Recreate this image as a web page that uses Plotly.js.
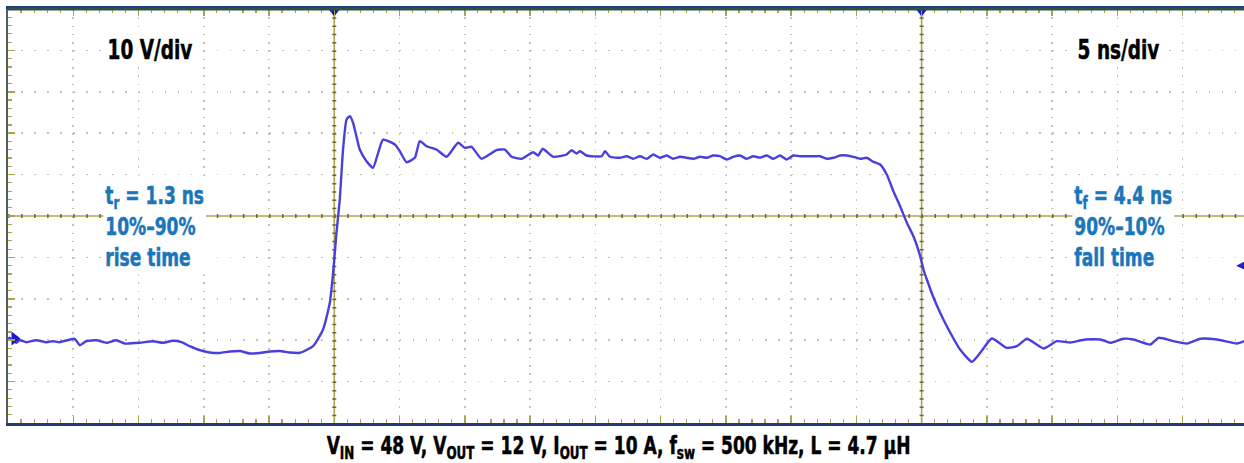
<!DOCTYPE html>
<html>
<head>
<meta charset="utf-8">
<script src="https://cdn.plot.ly/plotly-3.0.1.min.js"></script>
<style>
  html, body { margin: 0; padding: 0; background: #ffffff; overflow: hidden; }
  #chart { width: 1244px; height: 463px; }
</style>
</head>
<body>
<div id="chart"></div>
<script>
// ---- data (time in ns, voltage in V) ----
const timeNs = [
  -25.0, -24.88, -24.36, -24.11, -23.60, -22.83, -22.06, -21.56, -21.04, -19.89,
  -19.51, -19.00, -18.23, -17.46, -16.70, -16.06, -14.91, -13.89, -13.12, -12.36,
  -11.71, -11.08, -10.31, -9.54, -8.78, -8.01, -7.24, -6.48, -5.71, -4.94,
  -4.18, -3.41, -2.64, -1.63, -0.86, -0.34, -0.09, 0.17, 0.42, 0.67,
  0.94, 1.19, 1.44, 1.95, 2.47, 2.97, 3.36, 3.74, 4.64, 5.02,
  5.54, 6.17, 6.55, 7.07, 7.83, 8.60, 9.49, 10.00, 10.52, 11.28,
  12.43, 13.07, 13.58, 14.35, 15.24, 15.62, 15.96, 16.77, 17.80, 18.18,
  18.57, 18.82, 19.33, 20.48, 20.74, 21.12, 21.89, 22.40, 22.91, 23.42,
  23.93, 24.44, 24.95, 25.47, 25.97, 26.49, 27.00, 27.51, 28.02, 28.53,
  29.04, 29.55, 30.07, 30.57, 31.09, 31.60, 32.11, 32.62, 33.13, 33.64,
  34.15, 34.67, 35.17, 35.69, 36.71, 37.22, 37.73, 38.24, 38.75, 39.27,
  39.77, 40.29, 40.80, 41.31, 41.82, 42.33, 42.84, 43.35, 43.87, 44.37,
  44.89, 45.14, 45.40, 45.91, 46.42, 46.93, 47.95, 48.85, 49.49, 50.38,
  51.53, 52.30, 53.07, 54.34, 55.37, 56.39, 57.54, 58.69, 59.45, 60.47,
  61.24, 62.52, 63.15, 64.31, 65.33, 66.35, 67.63, 69.16, 69.73
];
const voltageV = [
  0.20, 0.58, -0.63, 0.00, -0.48, 0.00, -0.48, -0.24, -0.48, 0.34,
  -1.21, -0.24, 0.00, -0.63, 0.00, -0.80, -0.63, -0.24, -0.63, -0.14,
  -0.48, -1.45, -2.42, -2.97, -3.09, -2.73, -2.61, -3.21, -3.09, -2.73,
  -2.61, -2.97, -3.04, -1.45, 2.58, 9.11, 16.35, 26.01, 33.99, 46.06,
  53.31, 54.11, 52.51, 46.06, 43.24, 41.64, 45.27, 48.43, 47.27, 45.65,
  43.00, 44.06, 48.07, 46.86, 46.06, 44.30, 47.68, 46.47, 46.71, 43.82,
  45.89, 46.06, 44.30, 43.82, 45.41, 44.61, 46.23, 44.30, 44.85, 45.89,
  45.10, 45.65, 44.61, 44.44, 45.65, 44.30, 44.06, 44.44, 43.82, 44.44,
  43.82, 44.85, 44.06, 44.61, 43.82, 44.30, 44.06, 43.82, 44.30, 44.06,
  44.61, 44.44, 43.65, 44.30, 44.61, 43.82, 44.44, 44.06, 44.61, 43.82,
  44.61, 43.65, 44.61, 44.44, 44.44, 44.44, 43.82, 44.06, 44.61, 44.61,
  44.30, 43.82, 44.06, 43.09, 42.44, 40.02, 35.99, 32.37, 28.36, 25.12,
  20.29, 17.08, 14.66, 10.31, 6.62, 3.38, -2.25, -5.22, -3.04, 0.41,
  -1.84, -1.45, 0.34, -2.00, -0.24, -0.56, 0.17, 0.17, -0.63, 0.34,
  0.17, -1.04, 0.58, -0.24, -0.80, 0.34, 0.17, -0.80, -0.24
];

// ---- scope screen settings ----
const timeRange = [-25, 69.7];      // ns (5 ns/div)
const voltRange = [-20, 80];        // V (10 V/div)
const cursorTimes = [0, 45];        // vertical cursor lines (ns)
const refLevels = [30];             // horizontal reference line (V)
const cursorMarkT = [0, 45];
const cursorMarkV = [79.4, 79.4];
const groundMarkT = [-24.5];
const groundMarkV = [0.4];
const trigMarkT = [69.1];
const trigMarkV = [18.0];

// ---- texts ----
const voltsDivText = "10 V/div";
const timeDivText = "5 ns/div";
const riseText = ["t<sub>r</sub> = 1.3 ns", "10%–90%", "rise time"];
const fallText = ["t<sub>f</sub> = 4.4 ns", "90%–10%", "fall time"];
const captionText = "V<sub>IN</sub> = 48 V, V<sub>OUT</sub> = 12 V, I<sub>OUT</sub> = 10 A, f<sub>sw</sub> = 500 kHz, L = 4.7 µH";

const FONT = "'Liberation Sans Narrow', 'Arial Narrow', 'DejaVu Sans Condensed', sans-serif";
const BLUE = "#1b75bb";
const TRACE = "#4a3fdc";
const OLIVE = "#aca350";
const OLIVE_DARK = "#6e6832";
const GRID = "#c4c3b6";
const SQUEEZE = 0.79;   // horizontal condensing of the bold labels
const anchorFrac = [0, 0, 0, 0, 0.5];

const traces = [
  {
    x: timeNs, y: voltageV, type: "scatter", mode: "lines",
    line: { color: TRACE, width: 2.4, shape: "spline", smoothing: 0.5 },
    hoverinfo: "skip"
  },
  {
    x: cursorMarkT, y: cursorMarkV, type: "scatter", mode: "markers",
    marker: { symbol: "triangle-down", size: 10, color: "#1414cc" },
    cliponaxis: false, hoverinfo: "skip"
  },
  {
    x: groundMarkT, y: groundMarkV, type: "scatter", mode: "markers",
    marker: { symbol: "triangle-right", size: 12, color: "#1a1ad0" },
    cliponaxis: false, hoverinfo: "skip"
  },
  {
    x: trigMarkT, y: trigMarkV, type: "scatter", mode: "markers",
    marker: { symbol: "arrow-left", size: 9, color: "#2020cc", line: { width: 0 } },
    cliponaxis: false, hoverinfo: "skip"
  }
];

const shapes = [];
cursorTimes.forEach(t => {
  shapes.push({ type: "line", xref: "x", yref: "y", x0: t, x1: t, y0: voltRange[1], y1: voltRange[0],
    line: { color: OLIVE, width: 1.6 }, layer: "between" });
  shapes.push({ type: "line", xref: "x", yref: "y", x0: t, x1: t, y0: voltRange[1], y1: voltRange[0],
    line: { color: OLIVE_DARK, width: 4, dash: "1.5px,6.78px" }, layer: "between" });
});
refLevels.forEach(v => {
  shapes.push({ type: "line", xref: "x", yref: "y", x0: timeRange[0], x1: timeRange[1], y0: v, y1: v,
    line: { color: OLIVE, width: 1.6 }, layer: "between" });
  shapes.push({ type: "line", xref: "x", yref: "y", x0: timeRange[0], x1: timeRange[1], y0: v, y1: v,
    line: { color: OLIVE_DARK, width: 4, dash: "1.5px,11.55px" }, layer: "between" });
});
// top border (dark green)
shapes.push({ type: "line", xref: "paper", yref: "paper", x0: 0, x1: 1, y0: 1, y1: 1,
  line: { color: "#2f5247", width: 3 }, layer: "above" });

const annotations = [
  { text: voltsDivText, x: -17.5, y: 70.2, xref: "x", yref: "y", xanchor: "left", yanchor: "middle",
    showarrow: false, bgcolor: "#ffffff", borderpad: 1,
    font: { family: FONT, size: 26, color: "#000000", weight: 700 } },
  { text: timeDivText, x: 56.8, y: 70.2, xref: "x", yref: "y", xanchor: "left", yanchor: "middle",
    showarrow: false, bgcolor: "#ffffff", borderpad: 1,
    font: { family: FONT, size: 26, color: "#000000", weight: 700 } },
  { text: riseText.join("<br>"), x: -17.7, y: 27.3, xref: "x", yref: "y", xanchor: "left", yanchor: "middle",
    align: "left", showarrow: false, bgcolor: "#ffffff", borderpad: 2,
    font: { family: FONT, size: 24, color: BLUE, weight: 700 } },
  { text: fallText.join("<br>"), x: 56.5, y: 27.3, xref: "x", yref: "y", xanchor: "left", yanchor: "middle",
    align: "left", showarrow: false, bgcolor: "#ffffff", borderpad: 2,
    font: { family: FONT, size: 24, color: BLUE, weight: 700 } },
  { text: captionText, x: 0.494, y: -0.058, xref: "paper", yref: "paper", xanchor: "center", yanchor: "middle",
    showarrow: false,
    font: { family: FONT, size: 24, color: "#000000", weight: 700 } }
];

const layout = {
  width: 1244, height: 463,
  margin: { l: 8, r: 0, t: 9, b: 40, pad: 0 },
  paper_bgcolor: "#ffffff", plot_bgcolor: "#ffffff",
  showlegend: false,
  xaxis: {
    range: timeRange, tick0: 0, dtick: 5, showticklabels: false, zeroline: false,
    showgrid: true, gridcolor: GRID, gridwidth: 1.6, griddash: "1.6px,6.68px",
    ticks: "inside", ticklen: 7, tickwidth: 1.5, tickcolor: OLIVE,
    showline: true, linecolor: "#1f3c7a", linewidth: 3, mirror: "allticks",
    minor: { dtick: 1, ticks: "inside", ticklen: 4, tickwidth: 1.2, tickcolor: OLIVE, showgrid: false },
    fixedrange: true
  },
  yaxis: {
    range: voltRange, tick0: 0, dtick: 10, showticklabels: false, zeroline: false,
    showgrid: true, gridcolor: GRID, gridwidth: 1.6, griddash: "1.6px,11.45px",
    ticks: "inside", ticklen: 7, tickwidth: 1.5, tickcolor: OLIVE,
    showline: true, linecolor: "#4d5f58", linewidth: 2, mirror: false,
    minor: { dtick: 2, ticks: "inside", ticklen: 4, tickwidth: 1.2, tickcolor: OLIVE, showgrid: false },
    fixedrange: true
  },
  shapes: shapes,
  annotations: annotations
};

Plotly.newPlot("chart", traces, layout, { staticPlot: true, displayModeBar: false }).then(gd => {
  // condense the bold label text horizontally (like a condensed typeface) and thicken strokes
  const groups = gd.querySelectorAll("g.annotation");
  groups.forEach((g, i) => {
    const inner = g.querySelector("g.annotation-text-g > g");
    const rect = g.querySelector("rect.bg");
    const txt = g.querySelector("text.annotation-text");
    if (!inner || !rect) return;
    const tr = inner.getAttribute("transform") || "";
    const m = tr.match(/translate\(\s*([-\d.e]+)[ ,]+([-\d.e]+)\s*\)/);
    const tx = m ? parseFloat(m[1]) : 0;
    const ty = m ? parseFloat(m[2]) : 0;
    const w = parseFloat(rect.getAttribute("width")) || rect.getBBox().width;
    const f = anchorFrac[i] !== undefined ? anchorFrac[i] : 0;
    const nx = tx + f * w * (1 - SQUEEZE);
    inner.setAttribute("transform", "translate(" + nx + "," + ty + ") scale(" + SQUEEZE + ",1)");
    if (txt) {
      const col = txt.style.fill || "#000";
      txt.style.stroke = col;
      txt.style.strokeWidth = "0.5px";
      txt.style.strokeLinejoin = "round";
    }
  });
});
</script>
</body>
</html>
